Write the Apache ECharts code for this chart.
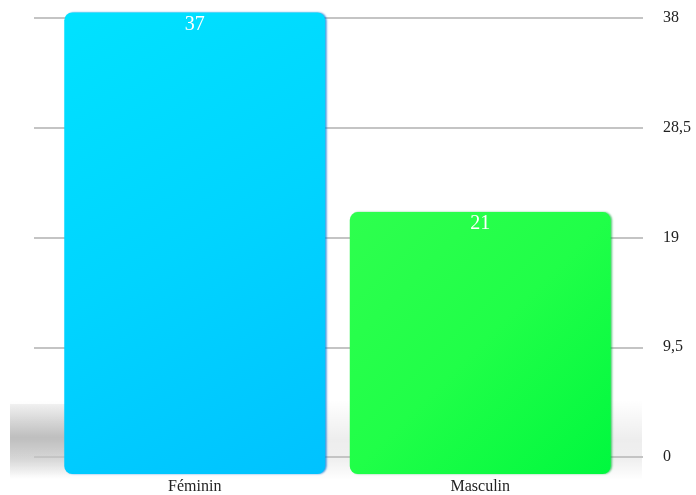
<!DOCTYPE html>
<html>
<head>
<meta charset="utf-8">
<script src="https://cdn.jsdelivr.net/npm/echarts@6/dist/echarts.min.js"></script>
<style>html,body{margin:0;padding:0;background:#fff}#c{width:696px;height:495px}</style>
</head>
<body>
<div id="c"></div>
<script>
var categories = ['Féminin', 'Masculin'];
var values = [37, 21];
var tickValues = [0, 9.5, 19, 28.5, 38];

var serif = '"Liberation Serif", "DejaVu Serif", serif';
var blue = new echarts.graphic.LinearGradient(0, 0, 1, 1, [
  {offset: 0, color: '#00e2ff'},
  {offset: 0.5, color: '#00d4ff'},
  {offset: 1, color: '#00c2ff'}
]);
var green = new echarts.graphic.LinearGradient(0, 0, 1, 1, [
  {offset: 0, color: '#2eff4e'},
  {offset: 0.5, color: '#20ff48'},
  {offset: 1, color: '#00f83e'}
]);
var colors = [blue, green];
var shadowColors = ['rgba(0,110,210,0.7)', 'rgba(0,170,50,0.6)'];

var chart = echarts.init(document.getElementById('c'), null, {renderer: 'canvas'});
chart.setOption({
  animation: false,
  backgroundColor: '#ffffff',
  graphic: [
    {type: 'rect', z: -10, shape: {x: 10, y: 400, width: 632, height: 80},
     style: {fill: new echarts.graphic.LinearGradient(0, 0, 0, 1, [
       {offset: 0, color: 'rgba(0,0,0,0)'},
       {offset: 0.5, color: 'rgba(0,0,0,0.07)'},
       {offset: 0.75, color: 'rgba(0,0,0,0.06)'},
       {offset: 1, color: 'rgba(0,0,0,0)'}])}},
    {type: 'rect', z: -10, shape: {x: 10, y: 404, width: 60, height: 74},
     style: {fill: new echarts.graphic.LinearGradient(0, 0, 0, 1, [
       {offset: 0, color: 'rgba(0,0,0,0.05)'},
       {offset: 0.45, color: 'rgba(0,0,0,0.2)'},
       {offset: 0.75, color: 'rgba(0,0,0,0.1)'},
       {offset: 1, color: 'rgba(0,0,0,0)'}])}}
  ],
  grid: [
    {left: 52, right: 73, top: 0, bottom: 17},
    {left: 34, right: 53, top: 18, bottom: 38}
  ],
  xAxis: [
    {type: 'category', gridIndex: 0, data: categories,
     axisLine: {show: false}, axisTick: {show: false},
     axisLabel: {margin: 5, color: '#222', fontSize: 16, fontFamily: serif}},
    {type: 'category', gridIndex: 1, data: categories, show: false}
  ],
  yAxis: [
    {type: 'value', gridIndex: 0, min: 0, max: 38, show: false},
    {type: 'value', gridIndex: 1, position: 'right', min: 0, max: 38, interval: 9.5,
     axisLine: {show: false}, axisTick: {show: false},
     splitLine: {lineStyle: {color: '#c4c4c4', width: 2}},
     axisLabel: {margin: 20, color: '#222', fontSize: 16, fontFamily: serif,
       formatter: function (v) { return String(v).replace('.', ','); }}}
  ],
  series: [{
    type: 'bar', xAxisIndex: 0, yAxisIndex: 0,
    data: values.map(function (v, i) {
      return {value: v, itemStyle: {color: colors[i], shadowColor: shadowColors[i]}};
    }),
    barCategoryGap: '8.6%',
    itemStyle: {borderRadius: 8, shadowBlur: 2, shadowOffsetX: 1.5},
    label: {show: true, position: 'insideTop', distance: 2, color: '#ffffff',
      fontSize: 20, fontFamily: serif}
  }]
});
</script>
</body>
</html>
